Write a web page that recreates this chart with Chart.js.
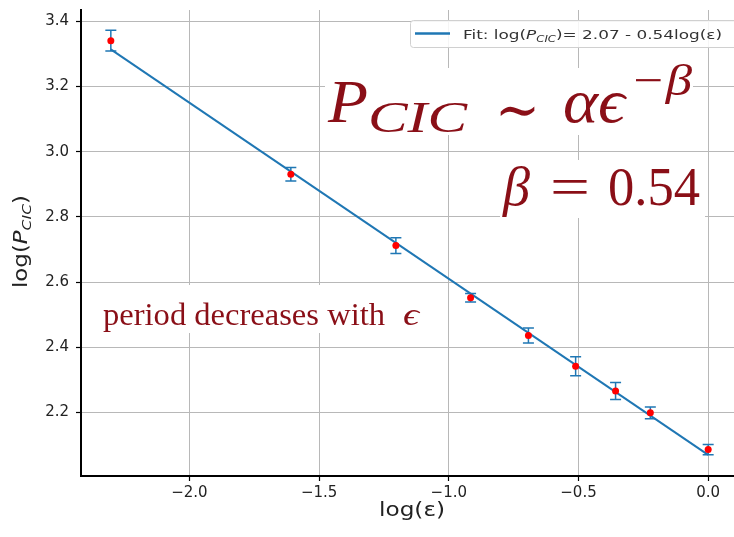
<!DOCTYPE html>
<html>
<head>
<meta charset="utf-8">
<script src="https://cdn.jsdelivr.net/npm/chart.js@4.4.0/dist/chart.umd.min.js"></script>
<style>
  html, body { margin: 0; padding: 0; background: #fff; overflow: hidden; }
  canvas { display: block; }
</style>
</head>
<body>
<canvas id="grafica" width="742" height="537"></canvas>
<script>
// log(eps) para eps = 0.1, 0.2, ... 1.0
const logEps = [-2.303, -1.609, -1.204, -0.916, -0.693, -0.511, -0.357, -0.223, 0.0];
const logP = [3.341, 2.931, 2.712, 2.552, 2.436, 2.342, 2.266, 2.199, 2.086];
const errP = [0.032, 0.021, 0.024, 0.013, 0.023, 0.029, 0.026, 0.018, 0.016];

// recta de ajuste: log(P) = 2.07 - 0.54 log(eps)
const fitX = [-2.303, 0.0];
const fitY = [3.314, 2.07];

const xTicks = [-2.0, -1.5, -1.0, -0.5, 0.0];
const yTicks = [2.2, 2.4, 2.6, 2.8, 3.0, 3.2, 3.4];

const AZUL = '#1f77b4';
const ROJO = '#8a0f17';
const SANS = '"DejaVu Sans", sans-serif';
const SERIF = '"Liberation Serif", "DejaVu Serif", serif';

function menos(v) {
  return v.toFixed(1).replace('-', '\u2212');
}

// dibuja trozos de texto seguidos, escalados en horizontal para ocupar "ancho"
function dibujarTrozos(ctx, x, y, trozos, ancho) {
  let total = 0;
  trozos.forEach(t => { ctx.font = t.font; t.w = ctx.measureText(t.text).width; total += t.w; });
  const k = ancho ? ancho / total : 1;
  ctx.save();
  ctx.translate(x, y);
  ctx.scale(k, 1);
  let cx = 0;
  trozos.forEach(t => {
    ctx.font = t.font;
    ctx.fillText(t.text, cx, t.dy || 0);
    cx += t.w;
  });
  ctx.restore();
}

// texto suelto con posicion y ancho
function texto(ctx, txt, x, y, font, ancho) {
  ctx.save();
  ctx.font = font;
  const w = ctx.measureText(txt).width;
  ctx.translate(x, y);
  ctx.scale(ancho / w, 1);
  ctx.fillText(txt, 0, 0);
  ctx.restore();
}

const barrasError = {
  id: 'barrasError',
  beforeDatasetsDraw(chart) {
    const { ctx, scales: { x, y } } = chart;
    ctx.save();
    ctx.strokeStyle = AZUL;
    ctx.lineWidth = 1.5;
    logEps.forEach((v, i) => {
      const px = x.getPixelForValue(v);
      const arriba = y.getPixelForValue(logP[i] + errP[i]);
      const abajo = y.getPixelForValue(logP[i] - errP[i]);
      ctx.beginPath();
      ctx.moveTo(px, arriba); ctx.lineTo(px, abajo);
      ctx.moveTo(px - 5.5, arriba); ctx.lineTo(px + 5.5, arriba);
      ctx.moveTo(px - 5.5, abajo); ctx.lineTo(px + 5.5, abajo);
      ctx.stroke();
    });
    ctx.restore();
  }
};

const anotaciones = {
  id: 'anotaciones',
  afterDraw(chart) {
    const ctx = chart.ctx;
    ctx.save();
    ctx.textBaseline = 'alphabetic';

    // leyenda
    ctx.fillStyle = 'rgba(255,255,255,0.85)';
    ctx.strokeStyle = '#d0d0d0';
    ctx.lineWidth = 1;
    ctx.beginPath();
    ctx.roundRect(410.5, 20.5, 340, 27, 3);
    ctx.fill();
    ctx.stroke();
    ctx.strokeStyle = AZUL;
    ctx.lineWidth = 2.5;
    ctx.beginPath();
    ctx.moveTo(415, 33.5); ctx.lineTo(450, 33.5);
    ctx.stroke();
    ctx.fillStyle = '#333';
    dibujarTrozos(ctx, 463, 39, [
      { text: 'Fit: log(', font: '13px ' + SANS },
      { text: 'P', font: 'italic 13px ' + SANS },
      { text: 'CIC', font: 'italic 9px ' + SANS, dy: 3 },
      { text: ')= 2.07 - 0.54log(\u03b5)', font: '13px ' + SANS }
    ], 259);

    // titulos de ejes
    ctx.fillStyle = '#222';
    dibujarTrozos(ctx, 379, 516, [
      { text: 'log(\u03b5)', font: '19px ' + SANS }
    ], 66);
    ctx.save();
    ctx.translate(27, 288);
    ctx.rotate(-Math.PI / 2);
    dibujarTrozos(ctx, 0, 0, [
      { text: 'log(', font: '19px ' + SANS },
      { text: 'P', font: 'italic 19px ' + SANS },
      { text: 'CIC', font: 'italic 13px ' + SANS, dy: 4 },
      { text: ')', font: '19px ' + SANS }
    ], 93);
    ctx.restore();

    // cajas blancas bajo los textos
    ctx.fillStyle = '#fff';
    ctx.fillRect(325, 68, 368, 67);
    ctx.fillRect(500, 160, 205, 58);
    ctx.fillRect(98, 285, 330, 48);

    ctx.fillStyle = ROJO;
    texto(ctx, 'P', 328, 122, 'italic 62px ' + SERIF, 40);
    texto(ctx, 'CIC', 368, 132, 'italic 44px ' + SERIF, 99);
    texto(ctx, '\u223c', 495, 130, '60px ' + SERIF, 45);
    texto(ctx, '\u03b1\u03f5', 563, 122, 'italic 62px ' + SERIF, 62);
    texto(ctx, '\u2212\u03b2', 630, 95, 'italic 44px ' + SERIF, 62);

    texto(ctx, '\u03b2', 503, 205, 'italic 54px ' + SERIF, 27);
    texto(ctx, '=', 550, 205, '54px ' + SERIF, 40);
    texto(ctx, '0.54', 608, 205, '54px ' + SERIF, 92);

    texto(ctx, 'period decreases with', 103, 325, '32px ' + SERIF, 282);
    texto(ctx, '\u03f5', 403, 325, 'italic 32px ' + SERIF, 16);
    ctx.restore();
  }
};

new Chart(document.getElementById('grafica'), {
  type: 'scatter',
  data: {
    datasets: [
      {
        label: 'datos',
        data: logEps.map((v, i) => ({ x: v, y: logP[i] })),
        backgroundColor: '#ff0000',
        borderWidth: 0,
        pointRadius: 3.5
      },
      {
        type: 'line',
        label: 'Fit',
        data: fitX.map((v, i) => ({ x: v, y: fitY[i] })),
        borderColor: AZUL,
        borderWidth: 2,
        pointRadius: 0,
        fill: false
      }
    ]
  },
  options: {
    responsive: false,
    animation: false,
    layout: { padding: { top: 10, right: 4, left: 0, bottom: 0 } },
    plugins: { legend: { display: false }, tooltip: { enabled: false } },
    scales: {
      x: {
        type: 'linear',
        min: -2.418,
        max: 0.115,
        afterBuildTicks: s => { s.ticks = xTicks.map(v => ({ value: v })); },
        afterFit: s => { s.height = 61; s.paddingLeft = 0; s.paddingRight = 0; },
        ticks: {
          callback: v => menos(v),
          color: '#222',
          font: { family: 'DejaVu Sans', size: 15 },
          padding: 3,
          maxRotation: 0
        },
        grid: { color: '#b8b8b8', lineWidth: 1, tickLength: 5, tickColor: '#000', tickWidth: 1.2 },
        border: { display: true, color: '#000', width: 2 }
      },
      y: {
        min: 2.005,
        max: 3.435,
        afterBuildTicks: s => { s.ticks = yTicks.map(v => ({ value: v })); },
        afterFit: s => { s.width = 81; s.paddingTop = 0; s.paddingBottom = 0; },
        ticks: {
          callback: v => menos(v),
          color: '#222',
          font: { family: 'DejaVu Sans', size: 15 },
          padding: 7
        },
        grid: { color: '#b8b8b8', lineWidth: 1, tickLength: 5, tickColor: '#000', tickWidth: 1.2 },
        border: { display: true, color: '#000', width: 2 }
      }
    }
  },
  plugins: [barrasError, anotaciones]
});
</script>
</body>
</html>
